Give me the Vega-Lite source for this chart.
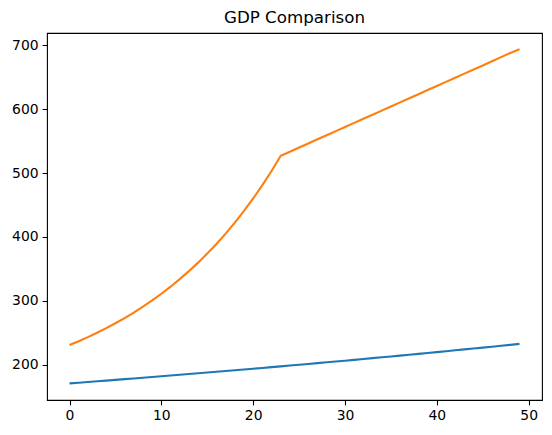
{
  "$schema": "https://vega.github.io/schema/vega-lite/v6.json",
  "width": 495,
  "height": 367,
  "autosize": "none",
  "padding": {"left": 47, "top": 33, "right": 10, "bottom": 35},
  "background": "white",
  "title": {"text": "GDP Comparison", "font": "DejaVu Sans", "fontSize": 16.7, "fontWeight": "normal", "color": "black", "anchor": "middle", "offset": 6},
  "config": {
    "view": {"stroke": "black", "strokeWidth": 1.1},
    "axis": {"grid": false, "domain": false, "labelFont": "DejaVu Sans", "labelFontSize": 13.9, "labelColor": "black", "tickColor": "black", "tickSize": 4.9, "tickWidth": 1.1, "labelPadding": 4, "title": null}
  },
  "data": {"values": [
    {"x":0,"gdp":171.0,"series":"A"},{"x":1,"gdp":172.08,"series":"A"},{"x":2,"gdp":173.16,"series":"A"},{"x":3,"gdp":174.26,"series":"A"},{"x":4,"gdp":175.36,"series":"A"},
    {"x":5,"gdp":176.46,"series":"A"},{"x":6,"gdp":177.58,"series":"A"},{"x":7,"gdp":178.7,"series":"A"},{"x":8,"gdp":179.83,"series":"A"},{"x":9,"gdp":180.96,"series":"A"},
    {"x":10,"gdp":182.1,"series":"A"},{"x":11,"gdp":183.25,"series":"A"},{"x":12,"gdp":184.41,"series":"A"},{"x":13,"gdp":185.57,"series":"A"},{"x":14,"gdp":186.74,"series":"A"},
    {"x":15,"gdp":187.92,"series":"A"},{"x":16,"gdp":189.11,"series":"A"},{"x":17,"gdp":190.3,"series":"A"},{"x":18,"gdp":191.5,"series":"A"},{"x":19,"gdp":192.71,"series":"A"},
    {"x":20,"gdp":193.93,"series":"A"},{"x":21,"gdp":195.15,"series":"A"},{"x":22,"gdp":196.38,"series":"A"},{"x":23,"gdp":197.62,"series":"A"},{"x":24,"gdp":198.87,"series":"A"},
    {"x":25,"gdp":200.12,"series":"A"},{"x":26,"gdp":201.38,"series":"A"},{"x":27,"gdp":202.65,"series":"A"},{"x":28,"gdp":203.93,"series":"A"},{"x":29,"gdp":205.22,"series":"A"},
    {"x":30,"gdp":206.51,"series":"A"},{"x":31,"gdp":207.82,"series":"A"},{"x":32,"gdp":209.13,"series":"A"},{"x":33,"gdp":210.45,"series":"A"},{"x":34,"gdp":211.78,"series":"A"},
    {"x":35,"gdp":213.12,"series":"A"},{"x":36,"gdp":214.46,"series":"A"},{"x":37,"gdp":215.81,"series":"A"},{"x":38,"gdp":217.17,"series":"A"},{"x":39,"gdp":218.54,"series":"A"},
    {"x":40,"gdp":219.92,"series":"A"},{"x":41,"gdp":221.31,"series":"A"},{"x":42,"gdp":222.71,"series":"A"},{"x":43,"gdp":224.11,"series":"A"},{"x":44,"gdp":225.53,"series":"A"},
    {"x":45,"gdp":226.95,"series":"A"},{"x":46,"gdp":228.38,"series":"A"},{"x":47,"gdp":229.82,"series":"A"},{"x":48,"gdp":231.27,"series":"A"},{"x":49,"gdp":232.73,"series":"A"},
    {"x":0,"gdp":231.0,"series":"B"},{"x":1,"gdp":236.99,"series":"B"},{"x":2,"gdp":243.36,"series":"B"},{"x":3,"gdp":250.13,"series":"B"},{"x":4,"gdp":257.33,"series":"B"},
    {"x":5,"gdp":264.99,"series":"B"},{"x":6,"gdp":273.13,"series":"B"},{"x":7,"gdp":281.78,"series":"B"},{"x":8,"gdp":290.98,"series":"B"},{"x":9,"gdp":300.76,"series":"B"},
    {"x":10,"gdp":311.16,"series":"B"},{"x":11,"gdp":322.22,"series":"B"},{"x":12,"gdp":333.99,"series":"B"},{"x":13,"gdp":346.51,"series":"B"},{"x":14,"gdp":359.83,"series":"B"},
    {"x":15,"gdp":374.01,"series":"B"},{"x":16,"gdp":389.12,"series":"B"},{"x":17,"gdp":405.22,"series":"B"},{"x":18,"gdp":422.37,"series":"B"},{"x":19,"gdp":440.66,"series":"B"},
    {"x":20,"gdp":460.18,"series":"B"},{"x":21,"gdp":481.0,"series":"B"},{"x":22,"gdp":503.24,"series":"B"},{"x":23,"gdp":527.0,"series":"B"},{"x":24,"gdp":533.4,"series":"B"},
    {"x":25,"gdp":539.8,"series":"B"},{"x":26,"gdp":546.3,"series":"B"},{"x":27,"gdp":552.7,"series":"B"},{"x":28,"gdp":559.1,"series":"B"},{"x":29,"gdp":565.5,"series":"B"},
    {"x":30,"gdp":572.0,"series":"B"},{"x":31,"gdp":578.4,"series":"B"},{"x":32,"gdp":584.8,"series":"B"},{"x":33,"gdp":591.2,"series":"B"},{"x":34,"gdp":597.6,"series":"B"},
    {"x":35,"gdp":604.1,"series":"B"},{"x":36,"gdp":610.5,"series":"B"},{"x":37,"gdp":616.9,"series":"B"},{"x":38,"gdp":623.3,"series":"B"},{"x":39,"gdp":629.8,"series":"B"},
    {"x":40,"gdp":636.2,"series":"B"},{"x":41,"gdp":642.6,"series":"B"},{"x":42,"gdp":649.0,"series":"B"},{"x":43,"gdp":655.5,"series":"B"},{"x":44,"gdp":661.9,"series":"B"},
    {"x":45,"gdp":668.3,"series":"B"},{"x":46,"gdp":674.7,"series":"B"},{"x":47,"gdp":681.2,"series":"B"},{"x":48,"gdp":687.6,"series":"B"},{"x":49,"gdp":693.5,"series":"B"}
  ]},
  "mark": {"type": "line", "strokeWidth": 2.1},
  "encoding": {
    "x": {"field": "x", "type": "quantitative", "scale": {"domain": [-2.45, 51.45], "nice": false, "zero": false}, "axis": {"values": [0, 10, 20, 30, 40, 50]}},
    "y": {"field": "gdp", "type": "quantitative", "scale": {"domain": [145, 719], "nice": false, "zero": false}, "axis": {"values": [200, 300, 400, 500, 600, 700]}},
    "color": {"field": "series", "type": "nominal", "scale": {"domain": ["A", "B"], "range": ["#1f77b4", "#ff7f0e"]}, "legend": null}
  }
}
